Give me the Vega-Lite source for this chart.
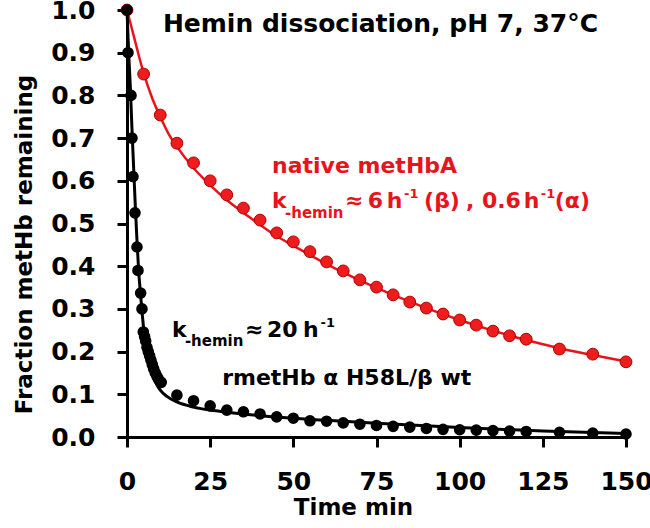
{
  "$schema": "https://vega.github.io/schema/vega-lite/v6.json",
  "autosize": {"type": "none"},
  "width": 499,
  "height": 427,
  "padding": {"left": 127, "top": 10, "right": 24, "bottom": 91},
  "background": "white",
  "datasets": {
    "pts": [
      {"t": 0, "f": 1.0, "s": "native"},
      {"t": 5, "f": 0.85, "s": "native"},
      {"t": 10, "f": 0.754, "s": "native"},
      {"t": 15, "f": 0.688, "s": "native"},
      {"t": 20, "f": 0.642, "s": "native"},
      {"t": 25, "f": 0.6, "s": "native"},
      {"t": 30, "f": 0.567, "s": "native"},
      {"t": 35, "f": 0.536, "s": "native"},
      {"t": 40, "f": 0.508, "s": "native"},
      {"t": 45, "f": 0.478, "s": "native"},
      {"t": 50, "f": 0.457, "s": "native"},
      {"t": 55, "f": 0.434, "s": "native"},
      {"t": 60, "f": 0.41, "s": "native"},
      {"t": 65, "f": 0.389, "s": "native"},
      {"t": 70, "f": 0.368, "s": "native"},
      {"t": 75, "f": 0.351, "s": "native"},
      {"t": 80, "f": 0.333, "s": "native"},
      {"t": 85, "f": 0.316, "s": "native"},
      {"t": 90, "f": 0.302, "s": "native"},
      {"t": 95, "f": 0.288, "s": "native"},
      {"t": 100, "f": 0.274, "s": "native"},
      {"t": 105, "f": 0.262, "s": "native"},
      {"t": 110, "f": 0.248, "s": "native"},
      {"t": 115, "f": 0.237, "s": "native"},
      {"t": 120, "f": 0.229, "s": "native"},
      {"t": 130, "f": 0.206, "s": "native"},
      {"t": 140, "f": 0.194, "s": "native"},
      {"t": 150, "f": 0.176, "s": "native"},
      {"t": 0, "f": 1.0, "s": "mutant"},
      {"t": 0.3, "f": 0.9, "s": "mutant"},
      {"t": 1.2, "f": 0.8, "s": "mutant"},
      {"t": 1.5, "f": 0.7, "s": "mutant"},
      {"t": 1.8, "f": 0.61, "s": "mutant"},
      {"t": 2.4, "f": 0.525, "s": "mutant"},
      {"t": 3.0, "f": 0.445, "s": "mutant"},
      {"t": 3.3, "f": 0.39, "s": "mutant"},
      {"t": 4.1, "f": 0.337, "s": "mutant"},
      {"t": 4.5, "f": 0.3, "s": "mutant"},
      {"t": 4.9, "f": 0.246, "s": "mutant"},
      {"t": 5.3, "f": 0.235, "s": "mutant"},
      {"t": 5.6, "f": 0.225, "s": "mutant"},
      {"t": 6.0, "f": 0.21, "s": "mutant"},
      {"t": 6.4, "f": 0.2, "s": "mutant"},
      {"t": 6.8, "f": 0.19, "s": "mutant"},
      {"t": 7.2, "f": 0.18, "s": "mutant"},
      {"t": 7.6, "f": 0.17, "s": "mutant"},
      {"t": 8.0, "f": 0.16, "s": "mutant"},
      {"t": 8.5, "f": 0.15, "s": "mutant"},
      {"t": 9.0, "f": 0.142, "s": "mutant"},
      {"t": 9.5, "f": 0.135, "s": "mutant"},
      {"t": 10.3, "f": 0.128, "s": "mutant"},
      {"t": 15, "f": 0.098, "s": "mutant"},
      {"t": 20, "f": 0.085, "s": "mutant"},
      {"t": 25, "f": 0.073, "s": "mutant"},
      {"t": 30, "f": 0.063, "s": "mutant"},
      {"t": 35, "f": 0.059, "s": "mutant"},
      {"t": 40, "f": 0.054, "s": "mutant"},
      {"t": 45, "f": 0.047, "s": "mutant"},
      {"t": 50, "f": 0.044, "s": "mutant"},
      {"t": 55, "f": 0.038, "s": "mutant"},
      {"t": 60, "f": 0.037, "s": "mutant"},
      {"t": 65, "f": 0.033, "s": "mutant"},
      {"t": 70, "f": 0.03, "s": "mutant"},
      {"t": 75, "f": 0.027, "s": "mutant"},
      {"t": 80, "f": 0.025, "s": "mutant"},
      {"t": 85, "f": 0.023, "s": "mutant"},
      {"t": 90, "f": 0.02, "s": "mutant"},
      {"t": 95, "f": 0.018, "s": "mutant"},
      {"t": 100, "f": 0.017, "s": "mutant"},
      {"t": 105, "f": 0.016, "s": "mutant"},
      {"t": 110, "f": 0.015, "s": "mutant"},
      {"t": 115, "f": 0.014, "s": "mutant"},
      {"t": 120, "f": 0.013, "s": "mutant"},
      {"t": 130, "f": 0.011, "s": "mutant"},
      {"t": 140, "f": 0.009, "s": "mutant"},
      {"t": 150, "f": 0.007, "s": "mutant"}
    ],
    "fit": [
      {"t": 0, "f": 1.0, "s": "native"},
      {"t": 1, "f": 0.97, "s": "native"},
      {"t": 2, "f": 0.94, "s": "native"},
      {"t": 3, "f": 0.91, "s": "native"},
      {"t": 4, "f": 0.88, "s": "native"},
      {"t": 5, "f": 0.853, "s": "native"},
      {"t": 7.5, "f": 0.795, "s": "native"},
      {"t": 10, "f": 0.75, "s": "native"},
      {"t": 12.5, "f": 0.71, "s": "native"},
      {"t": 15, "f": 0.68, "s": "native"},
      {"t": 20, "f": 0.63, "s": "native"},
      {"t": 25, "f": 0.59, "s": "native"},
      {"t": 30, "f": 0.555, "s": "native"},
      {"t": 35, "f": 0.525, "s": "native"},
      {"t": 40, "f": 0.497, "s": "native"},
      {"t": 45, "f": 0.47, "s": "native"},
      {"t": 50, "f": 0.448, "s": "native"},
      {"t": 60, "f": 0.405, "s": "native"},
      {"t": 70, "f": 0.367, "s": "native"},
      {"t": 80, "f": 0.333, "s": "native"},
      {"t": 90, "f": 0.302, "s": "native"},
      {"t": 100, "f": 0.274, "s": "native"},
      {"t": 110, "f": 0.249, "s": "native"},
      {"t": 120, "f": 0.227, "s": "native"},
      {"t": 130, "f": 0.208, "s": "native"},
      {"t": 140, "f": 0.192, "s": "native"},
      {"t": 150, "f": 0.177, "s": "native"},
      {"t": 0, "f": 1.0, "s": "mutant"},
      {"t": 0.5, "f": 0.9, "s": "mutant"},
      {"t": 1, "f": 0.82, "s": "mutant"},
      {"t": 1.5, "f": 0.72, "s": "mutant"},
      {"t": 2, "f": 0.63, "s": "mutant"},
      {"t": 2.5, "f": 0.54, "s": "mutant"},
      {"t": 3, "f": 0.46, "s": "mutant"},
      {"t": 3.5, "f": 0.39, "s": "mutant"},
      {"t": 4, "f": 0.34, "s": "mutant"},
      {"t": 4.5, "f": 0.295, "s": "mutant"},
      {"t": 5, "f": 0.255, "s": "mutant"},
      {"t": 5.5, "f": 0.225, "s": "mutant"},
      {"t": 6, "f": 0.2, "s": "mutant"},
      {"t": 7, "f": 0.163, "s": "mutant"},
      {"t": 8, "f": 0.138, "s": "mutant"},
      {"t": 9, "f": 0.122, "s": "mutant"},
      {"t": 10, "f": 0.11, "s": "mutant"},
      {"t": 12, "f": 0.095, "s": "mutant"},
      {"t": 15, "f": 0.082, "s": "mutant"},
      {"t": 20, "f": 0.07, "s": "mutant"},
      {"t": 25, "f": 0.063, "s": "mutant"},
      {"t": 30, "f": 0.058, "s": "mutant"},
      {"t": 40, "f": 0.05, "s": "mutant"},
      {"t": 50, "f": 0.044, "s": "mutant"},
      {"t": 60, "f": 0.039, "s": "mutant"},
      {"t": 75, "f": 0.032, "s": "mutant"},
      {"t": 100, "f": 0.022, "s": "mutant"},
      {"t": 125, "f": 0.014, "s": "mutant"},
      {"t": 150, "f": 0.008, "s": "mutant"}
    ],
    "notes": [
      {"t": 10.8, "f": 0.948, "text": "Hemin dissociation, pH 7, 37°C", "kind": "title"},
      {"t": 43.6, "f": 0.618, "text": "native metHbA", "kind": "redMain"},
      {"t": 43.6, "f": 0.536, "text": "k", "kind": "redMain"},
      {"t": 47.5, "f": 0.513, "text": "-hemin", "kind": "redSub"},
      {"t": 65.5, "f": 0.536, "text": "≈", "kind": "redMain"},
      {"t": 72.4, "f": 0.536, "text": "6", "kind": "redMain"},
      {"t": 78.1, "f": 0.536, "text": "h", "kind": "redMain"},
      {"t": 83.3, "f": 0.559, "text": "-1", "kind": "redSup"},
      {"t": 89.3, "f": 0.536, "text": "(β)", "kind": "redMain"},
      {"t": 101.9, "f": 0.536, "text": ",", "kind": "redMain"},
      {"t": 106.7, "f": 0.536, "text": "0.6", "kind": "redMain"},
      {"t": 119.3, "f": 0.536, "text": "h", "kind": "redMain"},
      {"t": 124.4, "f": 0.559, "text": "-1", "kind": "redSup"},
      {"t": 128.6, "f": 0.536, "text": "(α)", "kind": "redMain"},
      {"t": 13.5, "f": 0.234, "text": "k", "kind": "blackMain"},
      {"t": 17.4, "f": 0.213, "text": "-hemin", "kind": "blackSub"},
      {"t": 35.5, "f": 0.234, "text": "≈", "kind": "blackMain"},
      {"t": 42.1, "f": 0.234, "text": "20", "kind": "blackMain"},
      {"t": 52.9, "f": 0.234, "text": "h", "kind": "blackMain"},
      {"t": 58.2, "f": 0.257, "text": "-1", "kind": "blackSup"},
      {"t": 28.6, "f": 0.122, "text": "rmetHb α H58L/β wt", "kind": "blackMain"}
    ]
  },
  "encoding": {
    "x": {
      "field": "t", "type": "quantitative",
      "scale": {"domain": [0, 150], "nice": false, "zero": false},
      "axis": {
        "title": "Time min",
        "values": [0, 25, 50, 75, 100, 125, 150],
        "labelFlush": false,
        "labelOverlap": false,
        "labelPadding": 22,
        "titlePadding": 2,
        "titleX": 226
      }
    },
    "y": {
      "field": "f", "type": "quantitative",
      "scale": {"domain": [0, 1], "nice": false},
      "axis": {
        "title": "Fraction metHb remaining",
        "values": [0, 0.1, 0.2, 0.3, 0.4, 0.5, 0.6, 0.7, 0.8, 0.9, 1.0],
        "format": ".1f",
        "labelFlush": false,
        "labelOverlap": false,
        "labelPadding": 22,
        "titlePadding": 14,
        "titleY": 234
      }
    }
  },
  "layer": [
    {
      "data": {"name": "fit"},
      "transform": [{"filter": "datum.s === 'native'"}],
      "mark": {"type": "line", "color": "#e8141c", "strokeWidth": 2.5, "interpolate": "monotone"}
    },
    {
      "data": {"name": "pts"},
      "transform": [{"filter": "datum.s === 'native'"}],
      "mark": {"type": "point", "shape": "circle", "filled": true, "fill": "#ee1c1c", "stroke": "#b00000", "strokeWidth": 1, "size": 140, "opacity": 1}
    },
    {
      "data": {"name": "fit"},
      "transform": [{"filter": "datum.s === 'mutant'"}],
      "mark": {"type": "line", "color": "black", "strokeWidth": 3, "interpolate": "monotone"}
    },
    {
      "data": {"name": "pts"},
      "transform": [{"filter": "datum.s === 'mutant'"}],
      "mark": {"type": "point", "shape": "circle", "filled": true, "fill": "black", "size": 135, "opacity": 1}
    },
    {
      "data": {"name": "notes"},
      "transform": [{"filter": "datum.kind === 'title'"}],
      "mark": {"type": "text", "align": "left", "baseline": "alphabetic", "font": "DejaVu Sans", "fontWeight": "bold", "fontSize": 25, "color": "black"},
      "encoding": {"text": {"field": "text"}}
    },
    {
      "data": {"name": "notes"},
      "transform": [{"filter": "datum.kind === 'redMain'"}],
      "mark": {"type": "text", "align": "left", "baseline": "alphabetic", "font": "DejaVu Sans", "fontWeight": "bold", "fontSize": 22, "color": "#e8141c"},
      "encoding": {"text": {"field": "text"}}
    },
    {
      "data": {"name": "notes"},
      "transform": [{"filter": "datum.kind === 'redSub'"}],
      "mark": {"type": "text", "align": "left", "baseline": "alphabetic", "font": "DejaVu Sans", "fontWeight": "bold", "fontSize": 15, "color": "#e8141c"},
      "encoding": {"text": {"field": "text"}}
    },
    {
      "data": {"name": "notes"},
      "transform": [{"filter": "datum.kind === 'redSup'"}],
      "mark": {"type": "text", "align": "left", "baseline": "alphabetic", "font": "DejaVu Sans", "fontWeight": "bold", "fontSize": 13, "color": "#e8141c"},
      "encoding": {"text": {"field": "text"}}
    },
    {
      "data": {"name": "notes"},
      "transform": [{"filter": "datum.kind === 'blackMain'"}],
      "mark": {"type": "text", "align": "left", "baseline": "alphabetic", "font": "DejaVu Sans", "fontWeight": "bold", "fontSize": 22, "color": "black"},
      "encoding": {"text": {"field": "text"}}
    },
    {
      "data": {"name": "notes"},
      "transform": [{"filter": "datum.kind === 'blackSub'"}],
      "mark": {"type": "text", "align": "left", "baseline": "alphabetic", "font": "DejaVu Sans", "fontWeight": "bold", "fontSize": 15, "color": "black"},
      "encoding": {"text": {"field": "text"}}
    },
    {
      "data": {"name": "notes"},
      "transform": [{"filter": "datum.kind === 'blackSup'"}],
      "mark": {"type": "text", "align": "left", "baseline": "alphabetic", "font": "DejaVu Sans", "fontWeight": "bold", "fontSize": 13, "color": "black"},
      "encoding": {"text": {"field": "text"}}
    }
  ],
  "config": {
    "view": {"stroke": null},
    "axis": {
      "grid": false,
      "domainColor": "black",
      "domainWidth": 3,
      "tickColor": "black",
      "tickWidth": 3,
      "tickSize": 10,
      "labelFont": "DejaVu Sans",
      "labelFontWeight": "bold",
      "labelFontSize": 25,
      "labelColor": "black",
      "titleFont": "DejaVu Sans",
      "titleFontWeight": "bold",
      "titleFontSize": 23,
      "titleColor": "black"
    }
  }
}
